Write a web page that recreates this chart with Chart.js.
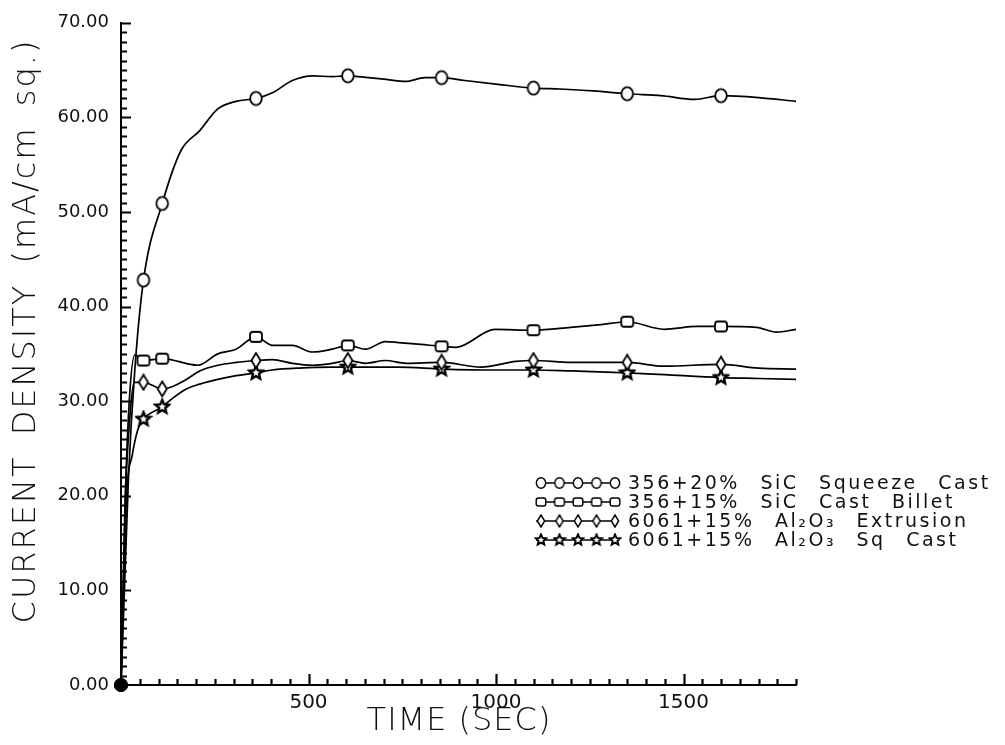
<!DOCTYPE html>
<html><head><meta charset="utf-8">
<style>html,body{margin:0;padding:0;background:#fff}#wrap{position:relative;width:1005px;height:745px}</style>
<script src="https://cdn.jsdelivr.net/npm/chart.js@4.4.1/dist/chart.umd.min.js"></script>
</head><body><div id="wrap"><canvas id="c" width="1005" height="745"></canvas></div>
<script>
// ---- data ----
const seriesLabels = [
  "356+20% SiC Squeeze Cast",
  "356+15% SiC Cast Billet",
  "6061+15% Al\u2082O\u2083 Extrusion",
  "6061+15% Al\u2082O\u2083 Sq Cast"
];
const squeezeTime = [0,10,20,37,60,110,160,210,258,307,360,404,457,510,563,605,660,710,758,811,855,917,1005,1100,1170,1260,1350,1440,1530,1600,1700,1800];
const squeezeDensity = [0,11,22,33.4,42.8,50.9,56.5,58.6,60.9,61.7,62.0,62.6,63.9,64.4,64.3,64.4,64.2,64.0,63.8,64.2,64.2,63.9,63.5,63.1,63.0,62.8,62.5,62.3,61.9,62.3,62.1,61.7];
const billetTime = [0,10,22,37,60,110,205,258,307,360,404,457,510,563,605,652,705,740,800,855,894,997,1100,1199,1280,1350,1448,1536,1600,1695,1748,1800];
const billetDensity = [0,18,30,34.9,34.3,34.5,33.8,35.0,35.5,36.8,35.9,35.9,35.2,35.5,35.9,35.5,36.3,36.2,36.0,35.8,35.7,37.6,37.5,37.8,38.1,38.4,37.6,37.9,37.9,37.8,37.3,37.6];
const extrusionTime = [0,12,25,35,60,110,134,174,210,258,307,360,404,457,510,563,605,652,705,760,855,960,1053,1100,1200,1350,1448,1600,1700,1800];
const extrusionDensity = [0,20,29,32.0,32.0,31.3,31.5,32.3,33.2,33.8,34.1,34.3,34.4,34.0,33.8,34.0,34.3,34.0,34.3,34.0,34.1,33.6,34.2,34.3,34.1,34.1,33.7,33.9,33.5,33.4];
const sqCastTime = [0,15,30,45,60,110,134,174,210,258,307,360,404,475,563,605,740,855,1000,1100,1200,1350,1450,1600,1700,1800];
const sqCastDensity = [0,20,24.3,27.0,28.1,29.4,30.2,31.3,31.8,32.3,32.7,33.0,33.3,33.5,33.6,33.6,33.6,33.4,33.3,33.3,33.2,33.0,32.8,32.5,32.4,32.3];
const markerTimes = [0,60,110,360,605,855,1100,1350,1600];
const yTickValues = [0,10,20,30,40,50,60,70];
const xTickValues = [500,1000,1500];
const yMinorStep = 1;
const xMinorStep = 50;

// ---- marker images ----
function makeMarker(kind, scale) {
  const s = scale || 1;
  const c = document.createElement('canvas');
  c.width = Math.round(18*s); c.height = Math.round(18*s);
  const g = c.getContext('2d');
  g.translate(c.width/2, c.height/2); g.scale(s, s);
  g.lineWidth = 1.8; g.strokeStyle = '#000'; g.fillStyle = '#fff';
  g.beginPath();
  if (kind === 'circle') {
    g.ellipse(0, 0, 5.8, 6.6, 0, 0, Math.PI*2);
  } else if (kind === 'square') {
    const w = 12, h = 10, r = 2.8;
    g.moveTo(-w/2+r, -h/2); g.arcTo(w/2, -h/2, w/2, h/2, r); g.arcTo(w/2, h/2, -w/2, h/2, r);
    g.arcTo(-w/2, h/2, -w/2, -h/2, r); g.arcTo(-w/2, -h/2, w/2, -h/2, r); g.closePath();
  } else if (kind === 'diamond') {
    g.moveTo(0, -7.5); g.lineTo(4.6, 0); g.lineTo(0, 7.5); g.lineTo(-4.6, 0); g.closePath();
  } else {
    for (let k = 0; k < 10; k++) {
      const r = k % 2 === 0 ? 7 : 3.2;
      const a = -Math.PI/2 + k*Math.PI/5;
      if (k === 0) g.moveTo(r*Math.cos(a), r*Math.sin(a)); else g.lineTo(r*Math.cos(a), r*Math.sin(a));
    }
    g.closePath();
    g.lineWidth = 2.4;
  }
  g.fill(); g.stroke();
  return c;
}
const kinds = ['circle','square','diamond','star'];
const plotMarkers = kinds.map(k => makeMarker(k, 1));
const legendMarkers = kinds.map(k => makeMarker(k, 0.8));

function pts(t, v) { return t.map((x, i) => ({x: x, y: v[i]})); }
const seriesData = [pts(squeezeTime, squeezeDensity), pts(billetTime, billetDensity), pts(extrusionTime, extrusionDensity), pts(sqCastTime, sqCastDensity)];

const datasets = seriesData.map((d, i) => ({
  label: seriesLabels[i],
  data: d,
  borderColor: '#000',
  borderWidth: 1.7,
  cubicInterpolationMode: 'monotone',
  clip: false,
  pointRadius: c => (c.raw && markerTimes.includes(c.raw.x)) ? 6 : 0,
  pointStyle: c => (c.raw && c.raw.x === 0) ? 'circle' : plotMarkers[i],
  pointBackgroundColor: '#000',
  pointBorderColor: '#000'
}));

const FONT = '"DejaVu Sans", "Liberation Sans", sans-serif';

const decorPlugin = {
  id: 'decor',
  afterDraw(chart) {
    const ctx = chart.ctx;
    const a = chart.chartArea;
    const xs = chart.scales.x, ys = chart.scales.y;
    ctx.save();
    ctx.strokeStyle = '#000';
    ctx.lineWidth = 2.2;
    ctx.beginPath();
    for (let v = yMinorStep; v <= 70; v += yMinorStep) {
      const py = Math.round(ys.getPixelForValue(v)) + 0.5;
      const len = (v % 10 === 0) ? 10 : 6;
      ctx.moveTo(a.left, py); ctx.lineTo(a.left + len, py);
    }
    for (let t = xMinorStep; t <= 1800; t += xMinorStep) {
      const px = Math.round(xs.getPixelForValue(t)) + 0.5;
      const len = (t % 500 === 0) ? 11 : 6;
      ctx.moveTo(px, a.bottom); ctx.lineTo(px, a.bottom - len);
    }
    ctx.stroke();
    ctx.restore();

    ctx.save();
    // axis titles
    ctx.fillStyle = '#111';
    ctx.textAlign = 'center'; ctx.textBaseline = 'middle';
    ctx.font = '200 32px ' + FONT;
    ctx.letterSpacing = '1px';
    ctx.fillText('TIME (SEC)', 459, 722);
    ctx.save();
    ctx.translate(27, 331); ctx.rotate(-Math.PI/2);
    ctx.letterSpacing = '2px'; ctx.wordSpacing = '8px';
    ctx.fillText('CURRENT DENSITY (mA/cm sq.)', 0, 0);
    ctx.restore();
    // legend
    const rowY0 = 483, rowGap = 19;
    chart.data.datasets.forEach((ds, i) => {
      const yy = rowY0 + i*rowGap;
      ctx.strokeStyle = '#000';
      ctx.lineWidth = 1.6;
      ctx.beginPath(); ctx.moveTo(536, yy); ctx.lineTo(616, yy); ctx.stroke();
      const m = legendMarkers[i];
      for (let k = 0; k < 5; k++) ctx.drawImage(m, 541 + k*18.5 - m.width/2, yy - m.height/2);
      ctx.textAlign = 'left';
      ctx.font = '19px ' + FONT;
      ctx.letterSpacing = '2.5px'; ctx.wordSpacing = '12px';
      ctx.fillText(ds.label, 628, yy + 1);
    });
    ctx.restore();
  }
};

new Chart(document.getElementById('c'), {
  type: 'line',
  data: {datasets},
  options: {
    responsive: false,
    animation: false,
    events: [],
    layout: {padding: {top: 18, right: 209, left: 0, bottom: 0}},
    plugins: {legend: {display: false}, tooltip: {enabled: false}},
    scales: {
      x: {
        type: 'linear', min: 0, max: 1800,
        afterBuildTicks: s => { s.ticks = xTickValues.map(v => ({value: v})); },
        afterFit: s => { s.height = 60; },
        grid: {display: false, drawTicks: false},
        border: {display: true, color: '#000', width: 2},
        ticks: {color: '#111', font: {family: FONT, size: 20}, padding: 6, maxRotation: 0, callback: v => String(v)}
      },
      y: {
        type: 'linear', min: 0, max: 70,
        afterBuildTicks: s => { s.ticks = yTickValues.map(v => ({value: v})); },
        afterFit: s => { s.width = 121; },
        grid: {display: false, drawTicks: false},
        border: {display: true, color: '#000', width: 2},
        ticks: {color: '#111', font: {family: FONT, size: 18}, padding: 12, callback: v => Number(v).toFixed(2)}
      }
    }
  },
  plugins: [decorPlugin]
});
</script></body></html>
